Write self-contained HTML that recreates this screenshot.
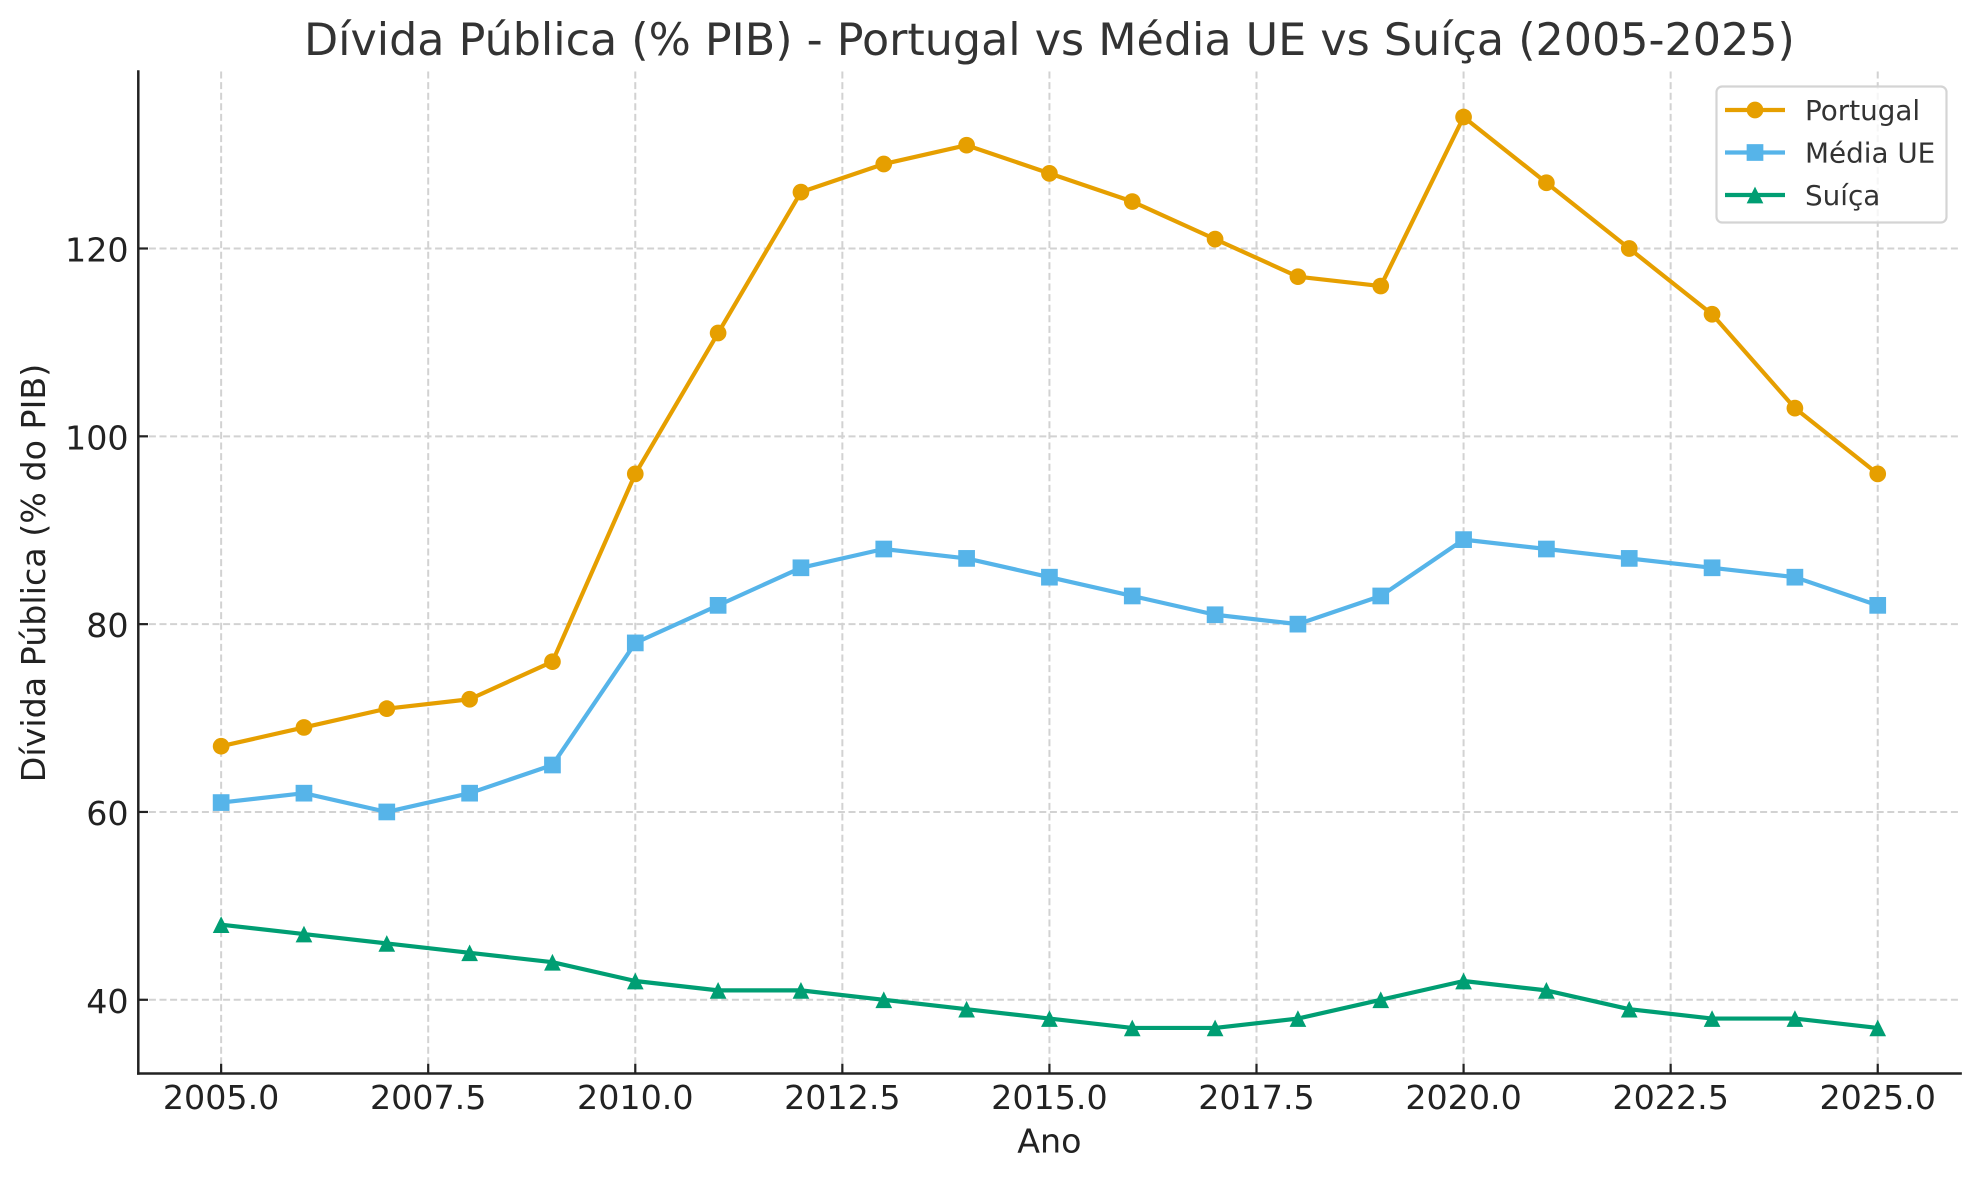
<!DOCTYPE html>
<html>
<head>
<meta charset="utf-8">
<style>
  html, body { margin: 0; padding: 0; background: #ffffff; }
  svg { display: block; }
  text { font-family: "DejaVu Sans", "Liberation Sans", sans-serif; }
</style>
</head>
<body>
<svg width="1980" height="1180" viewBox="0 0 1980 1180" xmlns="http://www.w3.org/2000/svg">
  <rect x="0" y="0" width="1980" height="1180" fill="#ffffff"/>

  <!-- grid -->
  <g stroke="#d2d2d2" stroke-width="2" stroke-dasharray="7,3.6" fill="none">
    <line x1="138.3" y1="999.78" x2="1960.6" y2="999.78"/>
    <line x1="138.3" y1="811.96" x2="1960.6" y2="811.96"/>
    <line x1="138.3" y1="624.14" x2="1960.6" y2="624.14"/>
    <line x1="138.3" y1="436.32" x2="1960.6" y2="436.32"/>
    <line x1="138.3" y1="248.5" x2="1960.6" y2="248.5"/>
    <line x1="221.13" y1="71.5" x2="221.13" y2="1073.5"/>
    <line x1="428.2" y1="71.5" x2="428.2" y2="1073.5"/>
    <line x1="635.28" y1="71.5" x2="635.28" y2="1073.5"/>
    <line x1="842.35" y1="71.5" x2="842.35" y2="1073.5"/>
    <line x1="1049.43" y1="71.5" x2="1049.43" y2="1073.5"/>
    <line x1="1256.5" y1="71.5" x2="1256.5" y2="1073.5"/>
    <line x1="1463.58" y1="71.5" x2="1463.58" y2="1073.5"/>
    <line x1="1670.65" y1="71.5" x2="1670.65" y2="1073.5"/>
    <line x1="1877.73" y1="71.5" x2="1877.73" y2="1073.5"/>
  </g>

  <!-- Portugal -->
  <polyline fill="none" stroke="#E69F00" stroke-width="4.2" stroke-linejoin="round" stroke-linecap="round"
    points="221.13,746.22 303.96,727.44 386.79,708.66 469.62,699.27 552.45,661.70 635.28,473.88 718.11,333.02 800.94,192.15 883.77,163.98 966.6,145.20 1049.43,173.37 1132.26,201.55 1215.09,239.11 1297.92,276.67 1380.75,286.06 1463.58,117.03 1546.41,182.76 1629.24,248.50 1712.07,314.24 1794.9,408.15 1877.73,473.88"/>
  <g fill="#E69F00">
    <circle cx="221.13" cy="746.22" r="8.35"/>
    <circle cx="303.96" cy="727.44" r="8.35"/>
    <circle cx="386.79" cy="708.66" r="8.35"/>
    <circle cx="469.62" cy="699.27" r="8.35"/>
    <circle cx="552.45" cy="661.70" r="8.35"/>
    <circle cx="635.28" cy="473.88" r="8.35"/>
    <circle cx="718.11" cy="333.02" r="8.35"/>
    <circle cx="800.94" cy="192.15" r="8.35"/>
    <circle cx="883.77" cy="163.98" r="8.35"/>
    <circle cx="966.6" cy="145.20" r="8.35"/>
    <circle cx="1049.43" cy="173.37" r="8.35"/>
    <circle cx="1132.26" cy="201.55" r="8.35"/>
    <circle cx="1215.09" cy="239.11" r="8.35"/>
    <circle cx="1297.92" cy="276.67" r="8.35"/>
    <circle cx="1380.75" cy="286.06" r="8.35"/>
    <circle cx="1463.58" cy="117.03" r="8.35"/>
    <circle cx="1546.41" cy="182.76" r="8.35"/>
    <circle cx="1629.24" cy="248.50" r="8.35"/>
    <circle cx="1712.07" cy="314.24" r="8.35"/>
    <circle cx="1794.9" cy="408.15" r="8.35"/>
    <circle cx="1877.73" cy="473.88" r="8.35"/>
  </g>

  <!-- Média UE -->
  <polyline fill="none" stroke="#56B4E9" stroke-width="4.2" stroke-linejoin="round" stroke-linecap="round"
    points="221.13,802.57 303.96,793.18 386.79,811.96 469.62,793.18 552.45,765.01 635.28,642.92 718.11,605.36 800.94,567.79 883.77,549.01 966.6,558.40 1049.43,577.19 1132.26,595.97 1215.09,614.75 1297.92,624.14 1380.75,595.97 1463.58,539.62 1546.41,549.01 1629.24,558.40 1712.07,567.79 1794.9,577.19 1877.73,605.36"/>
  <g fill="#56B4E9">
    <rect x="212.78" y="794.22" width="16.7" height="16.7"/>
    <rect x="295.61" y="784.83" width="16.7" height="16.7"/>
    <rect x="378.44" y="803.61" width="16.7" height="16.7"/>
    <rect x="461.27" y="784.83" width="16.7" height="16.7"/>
    <rect x="544.1" y="756.66" width="16.7" height="16.7"/>
    <rect x="626.93" y="634.57" width="16.7" height="16.7"/>
    <rect x="709.76" y="597.01" width="16.7" height="16.7"/>
    <rect x="792.59" y="559.44" width="16.7" height="16.7"/>
    <rect x="875.42" y="540.66" width="16.7" height="16.7"/>
    <rect x="958.25" y="550.05" width="16.7" height="16.7"/>
    <rect x="1041.08" y="568.84" width="16.7" height="16.7"/>
    <rect x="1123.91" y="587.62" width="16.7" height="16.7"/>
    <rect x="1206.74" y="606.40" width="16.7" height="16.7"/>
    <rect x="1289.57" y="615.79" width="16.7" height="16.7"/>
    <rect x="1372.4" y="587.62" width="16.7" height="16.7"/>
    <rect x="1455.23" y="531.27" width="16.7" height="16.7"/>
    <rect x="1538.06" y="540.66" width="16.7" height="16.7"/>
    <rect x="1620.89" y="550.05" width="16.7" height="16.7"/>
    <rect x="1703.72" y="559.44" width="16.7" height="16.7"/>
    <rect x="1786.55" y="568.84" width="16.7" height="16.7"/>
    <rect x="1869.38" y="597.01" width="16.7" height="16.7"/>
  </g>

  <!-- Suíça -->
  <polyline fill="none" stroke="#009E73" stroke-width="4.2" stroke-linejoin="round" stroke-linecap="round"
    points="221.13,924.65 303.96,934.04 386.79,943.43 469.62,952.83 552.45,962.22 635.28,981.00 718.11,990.39 800.94,990.39 883.77,999.78 966.6,1009.17 1049.43,1018.56 1132.26,1027.95 1215.09,1027.95 1297.92,1018.56 1380.75,999.78 1463.58,981.00 1546.41,990.39 1629.24,1009.17 1712.07,1018.56 1794.9,1018.56 1877.73,1027.95"/>
  <g fill="#009E73">
    <polygon points="221.13,916.3 212.78,933.0 229.48,933.0"/>
    <polygon points="303.96,925.69 295.61,942.39 312.31,942.39"/>
    <polygon points="386.79,935.08 378.44,951.78 395.14,951.78"/>
    <polygon points="469.62,944.48 461.27,961.18 477.97,961.18"/>
    <polygon points="552.45,953.87 544.1,970.57 560.8,970.57"/>
    <polygon points="635.28,972.65 626.93,989.35 643.63,989.35"/>
    <polygon points="718.11,982.04 709.76,998.74 726.46,998.74"/>
    <polygon points="800.94,982.04 792.59,998.74 809.29,998.74"/>
    <polygon points="883.77,991.43 875.42,1008.13 892.12,1008.13"/>
    <polygon points="966.6,1000.82 958.25,1017.52 974.95,1017.52"/>
    <polygon points="1049.43,1010.21 1041.08,1026.91 1057.78,1026.91"/>
    <polygon points="1132.26,1019.6 1123.91,1036.3 1140.61,1036.3"/>
    <polygon points="1215.09,1019.6 1206.74,1036.3 1223.44,1036.3"/>
    <polygon points="1297.92,1010.21 1289.57,1026.91 1306.27,1026.91"/>
    <polygon points="1380.75,991.43 1372.4,1008.13 1389.1,1008.13"/>
    <polygon points="1463.58,972.65 1455.23,989.35 1471.93,989.35"/>
    <polygon points="1546.41,982.04 1538.06,998.74 1554.76,998.74"/>
    <polygon points="1629.24,1000.82 1620.89,1017.52 1637.59,1017.52"/>
    <polygon points="1712.07,1010.21 1703.72,1026.91 1720.42,1026.91"/>
    <polygon points="1794.9,1010.21 1786.55,1026.91 1803.25,1026.91"/>
    <polygon points="1877.73,1019.6 1869.38,1036.3 1886.08,1036.3"/>
  </g>

  <!-- spines -->
  <g stroke="#222222" stroke-width="2.5" stroke-linecap="square">
    <line x1="138.3" y1="71.5" x2="138.3" y2="1073.5"/>
    <line x1="138.3" y1="1073.5" x2="1960.6" y2="1073.5"/>
  </g>

  <!-- ticks (inward) -->
  <g stroke="#222222" stroke-width="2.2">
    <line x1="138.3" y1="999.78" x2="148" y2="999.78"/>
    <line x1="138.3" y1="811.96" x2="148" y2="811.96"/>
    <line x1="138.3" y1="624.14" x2="148" y2="624.14"/>
    <line x1="138.3" y1="436.32" x2="148" y2="436.32"/>
    <line x1="138.3" y1="248.5" x2="148" y2="248.5"/>
    <line x1="221.13" y1="1073.5" x2="221.13" y2="1063.8"/>
    <line x1="428.2" y1="1073.5" x2="428.2" y2="1063.8"/>
    <line x1="635.28" y1="1073.5" x2="635.28" y2="1063.8"/>
    <line x1="842.35" y1="1073.5" x2="842.35" y2="1063.8"/>
    <line x1="1049.43" y1="1073.5" x2="1049.43" y2="1063.8"/>
    <line x1="1256.5" y1="1073.5" x2="1256.5" y2="1063.8"/>
    <line x1="1463.58" y1="1073.5" x2="1463.58" y2="1063.8"/>
    <line x1="1670.65" y1="1073.5" x2="1670.65" y2="1063.8"/>
    <line x1="1877.73" y1="1073.5" x2="1877.73" y2="1063.8"/>
  </g>

  <!-- y tick labels -->
  <g font-size="33.3" fill="#222222" text-anchor="end">
    <text x="128.6" y="1012.8">40</text>
    <text x="128.6" y="825">60</text>
    <text x="128.6" y="637.2">80</text>
    <text x="128.6" y="449.4">100</text>
    <text x="128.6" y="261.6">120</text>
  </g>

  <!-- x tick labels -->
  <g font-size="33.3" fill="#222222" text-anchor="middle">
    <text x="221.13" y="1109">2005.0</text>
    <text x="428.2" y="1109">2007.5</text>
    <text x="635.28" y="1109">2010.0</text>
    <text x="842.35" y="1109">2012.5</text>
    <text x="1049.43" y="1109">2015.0</text>
    <text x="1256.5" y="1109">2017.5</text>
    <text x="1463.58" y="1109">2020.0</text>
    <text x="1670.65" y="1109">2022.5</text>
    <text x="1877.73" y="1109">2025.0</text>
  </g>

  <!-- axis labels -->
  <text x="1049.4" y="1152.7" font-size="33.3" fill="#222222" text-anchor="middle">Ano</text>
  <text transform="translate(45,573) rotate(-90)" x="0" y="0" font-size="33.3" fill="#222222" text-anchor="middle">Dívida Pública (% do PIB)</text>

  <!-- title -->
  <text x="1049.4" y="55" font-size="44.4" fill="#333333" text-anchor="middle">Dívida Pública (% PIB) - Portugal vs Média UE vs Suíça (2005-2025)</text>

  <!-- legend -->
  <rect x="1716.5" y="86.5" width="230" height="136" rx="5.6" ry="5.6" fill="#ffffff" fill-opacity="0.8" stroke="#d4d4d4" stroke-width="2.2"/>
  <line x1="1725" y1="110" x2="1785" y2="110" stroke="#E69F00" stroke-width="4.2"/>
  <circle cx="1755" cy="110" r="8.35" fill="#E69F00"/>
  <line x1="1725" y1="152.5" x2="1785" y2="152.5" stroke="#56B4E9" stroke-width="4.2"/>
  <rect x="1746.65" y="144.15" width="16.7" height="16.7" fill="#56B4E9"/>
  <line x1="1725" y1="195" x2="1785" y2="195" stroke="#009E73" stroke-width="4.2"/>
  <polygon points="1755,186.65 1746.65,203.35 1763.35,203.35" fill="#009E73"/>
  <g font-size="27.8" fill="#333333">
    <text x="1805" y="120">Portugal</text>
    <text x="1805" y="162.5">Média UE</text>
    <text x="1805" y="205">Suíça</text>
  </g>
</svg>
</body>
</html>
